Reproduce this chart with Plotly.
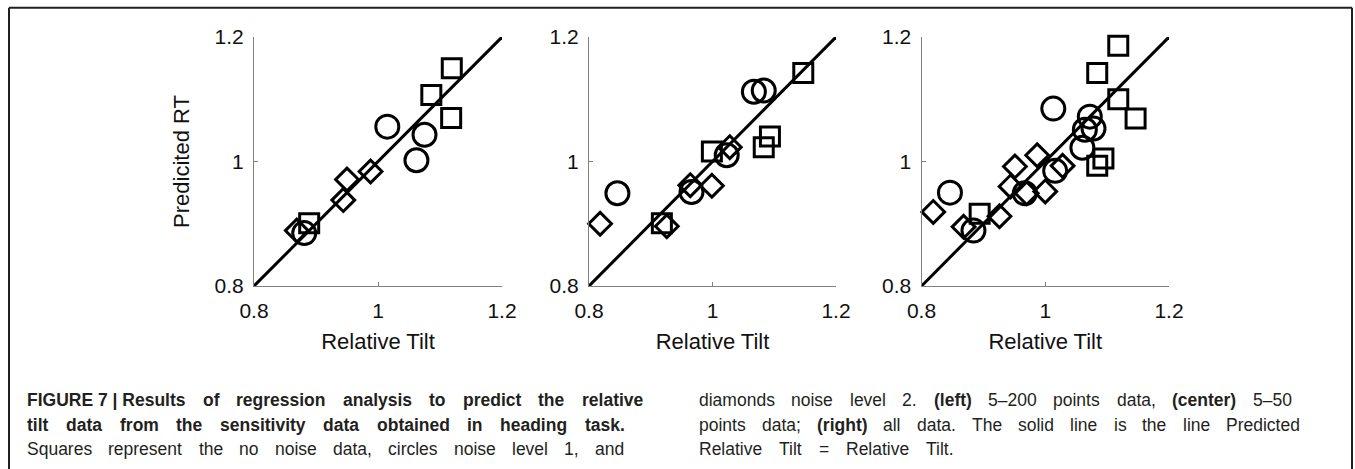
import plotly.graph_objects as go

W, H = 1355, 469

# ---- data: relative tilt (x) vs predicted relative tilt (y) ----
# left: 5-200 points data
left_sq_x = [1.119, 1.086, 1.118, 0.889]
left_sq_y = [1.150, 1.107, 1.070, 0.901]
left_ci_x = [1.015, 1.075, 1.062, 0.881]
left_ci_y = [1.056, 1.043, 1.002, 0.885]
left_di_x = [0.869, 0.944, 0.950, 0.988]
left_di_y = [0.889, 0.938, 0.971, 0.984]

# center: 5-50 points data
center_sq_x = [1.147, 1.093, 1.083, 0.999, 0.918]
center_sq_y = [1.142, 1.040, 1.023, 1.016, 0.901]
center_ci_x = [1.067, 1.083, 0.846, 0.966, 1.023]
center_ci_y = [1.112, 1.114, 0.949, 0.951, 1.010]
center_di_x = [0.818, 0.926, 0.964, 0.999, 1.028]
center_di_y = [0.900, 0.896, 0.962, 0.961, 1.023]

# right: all data
right_sq_x = [1.118, 1.084, 1.118, 1.146, 1.094, 1.084, 0.894]
right_sq_y = [1.186, 1.142, 1.100, 1.069, 1.005, 0.993, 0.916]
right_ci_x = [0.846, 0.884, 0.967, 1.013, 1.016, 1.072, 1.078, 1.064, 1.060]
right_ci_y = [0.950, 0.889, 0.949, 1.085, 0.985, 1.072, 1.053, 1.051, 1.022]
right_di_x = [0.819, 0.868, 0.926, 0.951, 0.987, 0.944, 0.970, 1.000, 1.028]
right_di_y = [0.919, 0.895, 0.912, 0.992, 1.010, 0.960, 0.949, 0.952, 0.993]

# identity line: Predicted Relative Tilt = Relative Tilt
identity = [0.8, 1.2]

axis_range = [0.8, 1.2]
tick_vals = [0.8, 1.0, 1.2]
tick_text = ["0.8", "1", "1.2"]
x_title = "Relative Tilt"
y_title = "Predicited RT"

panels = [
    (left_sq_x, left_sq_y, left_ci_x, left_ci_y, left_di_x, left_di_y),
    (center_sq_x, center_sq_y, center_ci_x, center_ci_y, center_di_x, center_di_y),
    (right_sq_x, right_sq_y, right_ci_x, right_ci_y, right_di_x, right_di_y),
]

# plot-area placement in pixels (left, right) and (top, bottom)
panel_px = [(254, 502), (589, 836), (921.5, 1169)]
top_px, bottom_px = 37, 286

INK = "#111111"
AXIS_GREY = "#808080"
FONT = "Liberation Sans, Arial, sans-serif"

fig = go.Figure()

marker_styles = [
    ("square-open", 19),
    ("circle-open", 23),
    ("diamond-open", 17.5),
]

for i, data in enumerate(panels):
    xa = "x" if i == 0 else f"x{i + 1}"
    ya = "y" if i == 0 else f"y{i + 1}"
    fig.add_trace(go.Scatter(
        x=identity, y=identity, mode="lines",
        line=dict(color="black", width=3),
        xaxis=xa, yaxis=ya, showlegend=False, hoverinfo="skip",
        cliponaxis=False,
    ))
    for k, (sym, size) in enumerate(marker_styles):
        fig.add_trace(go.Scatter(
            x=data[2 * k], y=data[2 * k + 1], mode="markers",
            marker=dict(symbol=sym, size=size, color="black",
                        line=dict(width=3, color="black")),
            xaxis=xa, yaxis=ya, showlegend=False, cliponaxis=False,
        ))

def axis_common():
    return dict(
        range=axis_range, tickvals=tick_vals, ticktext=tick_text,
        showline=True, linecolor=AXIS_GREY, linewidth=1,
        ticks="inside", ticklen=4, tickcolor=AXIS_GREY, tickwidth=1,
        showgrid=False, zeroline=False, mirror=False,
        tickfont=dict(family=FONT, size=21, color=INK),
        fixedrange=True, automargin=False,
    )

layout_axes = {}
for i, (l, r) in enumerate(panel_px):
    sx = "" if i == 0 else str(i + 1)
    xa = axis_common()
    xa.update(domain=[l / W, r / W], anchor="y" + sx,
              title=dict(text=x_title, font=dict(family=FONT, size=22, color=INK),
                         standoff=12),
              ticklabelstandoff=6)
    ya = axis_common()
    ya.update(domain=[1 - bottom_px / H, 1 - top_px / H], anchor="x" + sx,
              ticklabelstandoff=5)
    if i == 0:
        ya.update(title=dict(text=y_title, font=dict(family=FONT, size=22, color=INK),
                             standoff=18))
    layout_axes["xaxis" + sx] = xa
    layout_axes["yaxis" + sx] = ya

fig.update_layout(
    width=W, height=H,
    margin=dict(l=0, r=0, t=0, b=0, pad=0, autoexpand=False),
    paper_bgcolor="white", plot_bgcolor="white",
    showlegend=False,
    **layout_axes,
)

# ---- figure frame (open at the bottom) ----
FRAME = "#231f20"
frame_left, frame_right, frame_top = 9, 1352, 7.7
for x0, y0, x1, y1 in [
    (frame_left, frame_top, frame_left, H + 10),
    (frame_left, frame_top, frame_right, frame_top),
    (frame_right, frame_top, frame_right, H + 10),
]:
    fig.add_shape(type="line", xref="paper", yref="paper",
                  x0=x0 / W, y0=1 - y0 / H, x1=x1 / W, y1=1 - y1 / H,
                  line=dict(color=FRAME, width=2))

# ---- caption, typeset as justified text ----
CAP_SIZE = 17.5
REG = {
    " ": 278, ".": 278, ",": 278, ";": 278, "(": 333, ")": 333, "–": 556, "=": 584,
    "|": 260, "P": 667, "R": 722, "S": 667, "T": 611,
    "a": 556, "b": 556, "c": 500, "d": 556, "e": 556, "f": 278, "g": 556, "h": 556,
    "i": 222, "j": 222, "k": 500, "l": 222, "m": 833, "n": 556, "o": 556, "p": 556,
    "q": 556, "r": 333, "s": 500, "t": 278, "u": 556, "v": 500, "w": 722, "x": 500,
    "y": 500, "z": 500,
}
BOLD = {
    " ": 278, ".": 278, ",": 278, ";": 278, "(": 333, ")": 333, "|": 280,
    "E": 667, "F": 611, "G": 778, "I": 278, "R": 722, "U": 722,
    "a": 556, "b": 611, "c": 556, "d": 611, "e": 556, "f": 333, "g": 611, "h": 611,
    "i": 278, "j": 278, "k": 556, "l": 278, "m": 889, "n": 611, "o": 611, "p": 611,
    "q": 611, "r": 389, "s": 556, "t": 333, "u": 611, "v": 556, "w": 778, "x": 556,
    "y": 556, "z": 500,
}


def word_width(word, bold):
    table = BOLD if bold else REG
    return sum(table.get(c, 556) for c in word) * CAP_SIZE / 1000.0


# each line: (text, all-bold flag, left px, right px, centre y px)
# words in parentheses are set bold; "~" keeps words together
caption_lines = [
    ("FIGURE~7~|~Results of regression analysis to predict the relative", True, 26, 642, 400),
    ("tilt data from the sensitivity data obtained in heading task.", True, 26, 624, 424.5),
    ("Squares represent the no noise data, circles noise level 1, and", False, 26, 623, 449),
    ("diamonds noise level 2. (left) 5–200 points data, (center) 5–50", False, 698, 1291, 400),
    ("points data; (right) all data. The solid line is the line Predicted", False, 698, 1299, 424.5),
    ("Relative Tilt = Relative Tilt.", False, 698, 953, 449),
]

for text, all_bold, left, right, yc in caption_lines:
    words = [w.replace("~", " ") for w in text.split(" ")]
    bolds = [all_bold or w.startswith("(") for w in words]
    widths = [word_width(w, b) for w, b in zip(words, bolds)]
    gap = (right - left - sum(widths)) / max(len(words) - 1, 1)
    x = left
    for w, b, wd in zip(words, bolds, widths):
        fig.add_annotation(
            xref="paper", yref="paper", x=x / W, y=1 - yc / H,
            xanchor="left", yanchor="middle", showarrow=False, text=w,
            borderpad=0,
            font=dict(family=FONT, size=CAP_SIZE, color="#231f20",
                      weight="bold" if b else "normal"),
        )
        x += wd + gap

fig.write_html("out.html")
